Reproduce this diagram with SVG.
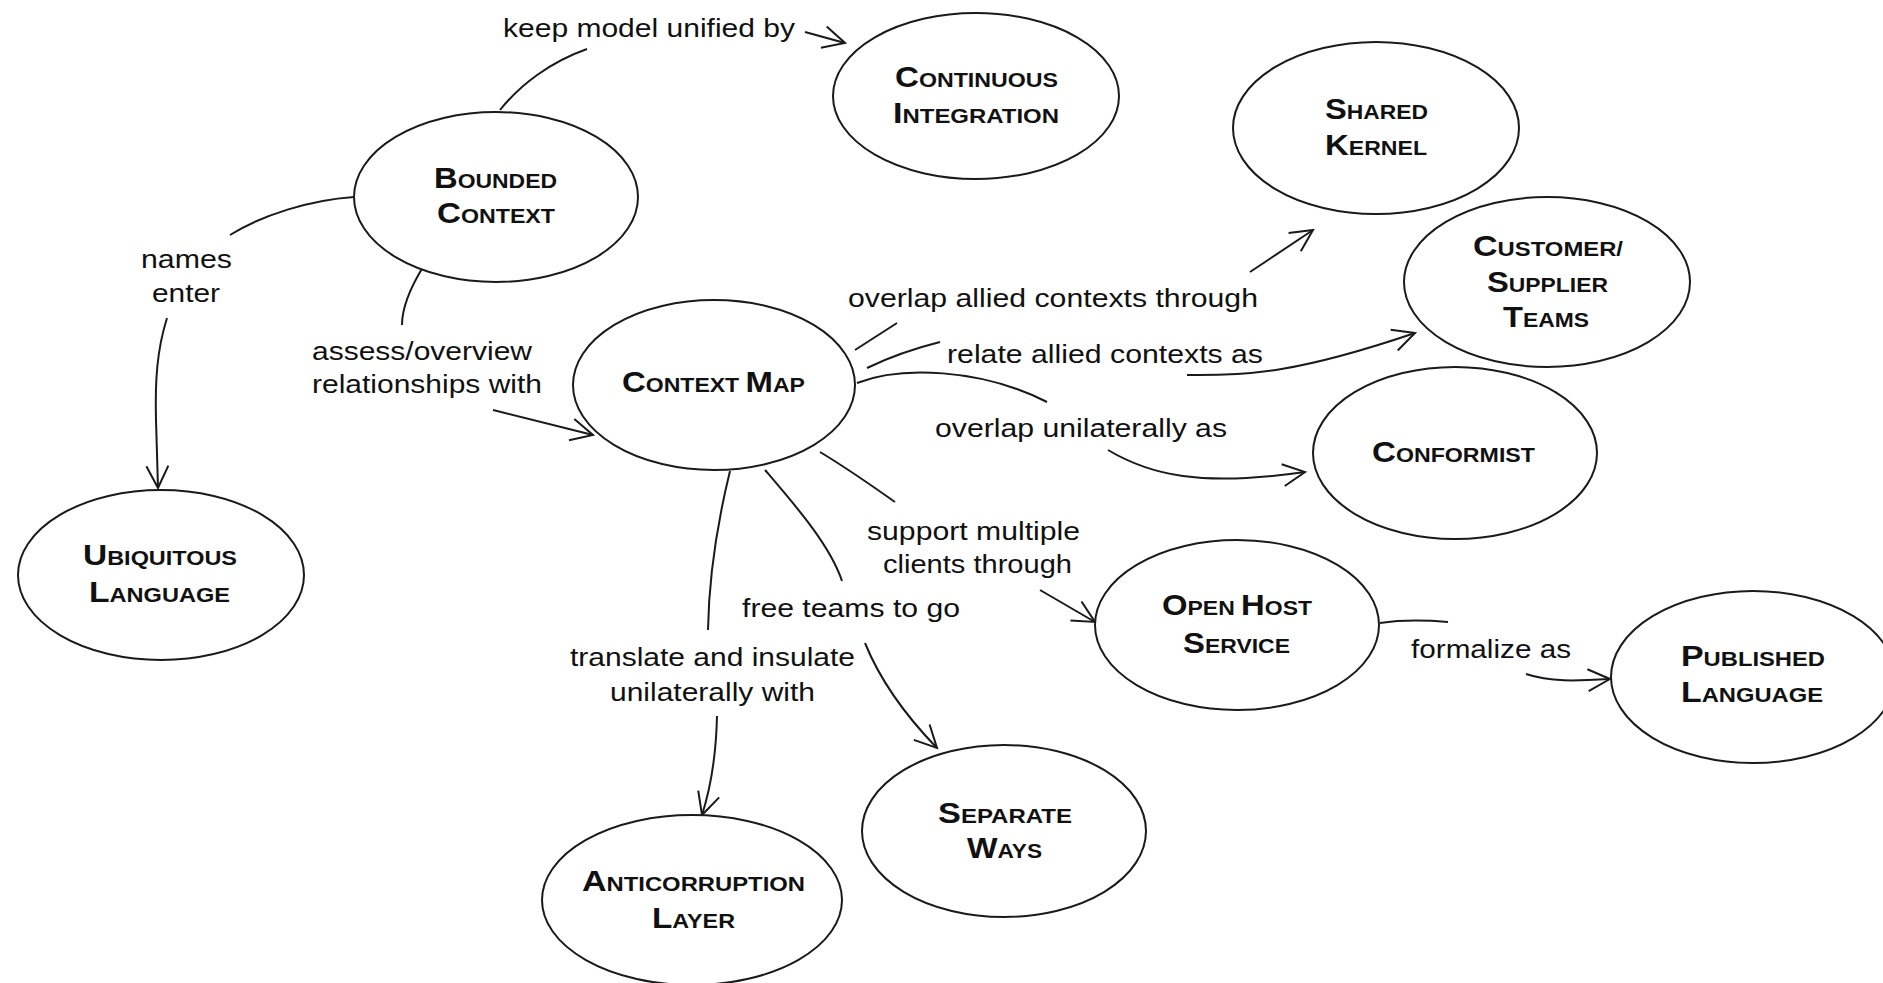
<svg xmlns="http://www.w3.org/2000/svg" width="1883" height="983" viewBox="0 0 1883 983">
  <style>
    .node ellipse { fill: #fff; stroke: #1a1a1a; stroke-width: 2; }
    .node text { font-family: "Liberation Sans", Arial, sans-serif; font-weight: bold; font-size: 21px; fill: #111; }
    .node .ini { font-size: 30px; }
    .edges path { fill: none; stroke: #1a1a1a; stroke-width: 2; }
    .edges text { font-family: "Liberation Sans", Arial, sans-serif; font-size: 26px; fill: #111; }
  </style>
  <defs>
    <marker id="arrow" markerUnits="userSpaceOnUse" markerWidth="28" markerHeight="28" viewBox="0 0 28 28" refX="25" refY="14" orient="auto">
      <path d="M3,3 L25,14 L3,25" fill="none" stroke="#1a1a1a" stroke-width="2"/>
    </marker>
  </defs>
  <rect width="1883" height="983" fill="#fff"/>

  <!-- connectors: each one is split around its label -->
  <g id="connectors" class="edges">
    <!-- Bounded Context -> Continuous Integration -->
    <path d="M500,110 C520,85 550,62 587,49"/>
    <text x="503" y="37" textLength="292" lengthAdjust="spacingAndGlyphs">keep model unified by</text>
    <path d="M805,32 L845,43" marker-end="url(#arrow)"/>

    <!-- Bounded Context -> Ubiquitous Language -->
    <path d="M354,197 C310,200 262,215 230,235"/>
    <text x="141" y="268" textLength="91" lengthAdjust="spacingAndGlyphs">names</text>
    <text x="152" y="302" textLength="68" lengthAdjust="spacingAndGlyphs">enter</text>
    <path d="M167,318 C157,350 155,380 156,420 L158,488" marker-end="url(#arrow)"/>

    <!-- Bounded Context -> Context Map -->
    <path d="M423,267 C412,285 402,305 402,325"/>
    <text x="312" y="360" textLength="220" lengthAdjust="spacingAndGlyphs">assess/overview</text>
    <text x="312" y="393" textLength="230" lengthAdjust="spacingAndGlyphs">relationships with</text>
    <path d="M493,410 L593,435" marker-end="url(#arrow)"/>

    <!-- Context Map -> Shared Kernel -->
    <path d="M855,350 L897,323"/>
    <text x="848" y="307" textLength="410" lengthAdjust="spacingAndGlyphs">overlap allied contexts through</text>
    <path d="M1250,272 L1313,230" marker-end="url(#arrow)"/>

    <!-- Context Map -> Customer/Supplier Teams -->
    <path d="M867,368 Q900,352 940,342"/>
    <text x="947" y="363" textLength="316" lengthAdjust="spacingAndGlyphs">relate allied contexts as</text>
    <path d="M1187,375 C1250,376 1300,372 1415,333" marker-end="url(#arrow)"/>

    <!-- Context Map -> Conformist -->
    <path d="M857,383 C900,366 980,368 1047,402"/>
    <text x="935" y="437" textLength="292" lengthAdjust="spacingAndGlyphs">overlap unilaterally as</text>
    <path d="M1108,450 C1150,475 1200,487 1305,472" marker-end="url(#arrow)"/>

    <!-- Context Map -> Open Host Service -->
    <path d="M820,452 C850,470 875,488 895,502"/>
    <text x="867" y="540" textLength="213" lengthAdjust="spacingAndGlyphs">support multiple</text>
    <text x="883" y="573" textLength="189" lengthAdjust="spacingAndGlyphs">clients through</text>
    <path d="M1040,590 L1095,622" marker-end="url(#arrow)"/>

    <!-- Open Host Service -> Published Language -->
    <path d="M1380,623 C1400,620 1425,620 1448,622"/>
    <text x="1411" y="658" textLength="160" lengthAdjust="spacingAndGlyphs">formalize as</text>
    <path d="M1526,674 C1550,682 1575,681 1610,679" marker-end="url(#arrow)"/>

    <!-- Context Map -> Anticorruption Layer -->
    <path d="M730,471 C718,520 709,570 708,630"/>
    <text x="570" y="666" textLength="285" lengthAdjust="spacingAndGlyphs">translate and insulate</text>
    <text x="610" y="701" textLength="205" lengthAdjust="spacingAndGlyphs">unilaterally with</text>
    <path d="M717,716 C716,760 710,790 702,815" marker-end="url(#arrow)"/>

    <!-- Context Map -> Separate Ways -->
    <path d="M765,470 C795,505 830,545 842,581"/>
    <text x="742" y="617" textLength="218" lengthAdjust="spacingAndGlyphs">free teams to go</text>
    <path d="M865,643 C880,680 905,715 937,748" marker-end="url(#arrow)"/>
  </g>

  <!-- nodes -->
  <g id="bounded-context" class="node">
    <ellipse cx="496" cy="197" rx="142" ry="85"/>
    <text x="434" y="188" textLength="123" lengthAdjust="spacingAndGlyphs"><tspan class="ini">B</tspan>OUNDED</text>
    <text x="437" y="223" textLength="118" lengthAdjust="spacingAndGlyphs"><tspan class="ini">C</tspan>ONTEXT</text>
  </g>

  <g id="continuous-integration" class="node">
    <ellipse cx="976" cy="96" rx="143" ry="83"/>
    <text x="895" y="87" textLength="163" lengthAdjust="spacingAndGlyphs"><tspan class="ini">C</tspan>ONTINUOUS</text>
    <text x="893" y="123" textLength="166" lengthAdjust="spacingAndGlyphs"><tspan class="ini">I</tspan>NTEGRATION</text>
  </g>

  <g id="shared-kernel" class="node">
    <ellipse cx="1376" cy="128" rx="143" ry="86"/>
    <text x="1325" y="119" textLength="103" lengthAdjust="spacingAndGlyphs"><tspan class="ini">S</tspan>HARED</text>
    <text x="1325" y="155" textLength="102" lengthAdjust="spacingAndGlyphs"><tspan class="ini">K</tspan>ERNEL</text>
  </g>

  <g id="customer-supplier-teams" class="node">
    <ellipse cx="1547" cy="282" rx="143" ry="85"/>
    <text x="1473" y="256" textLength="150" lengthAdjust="spacingAndGlyphs"><tspan class="ini">C</tspan>USTOMER/</text>
    <text x="1487" y="292" textLength="121" lengthAdjust="spacingAndGlyphs"><tspan class="ini">S</tspan>UPPLIER</text>
    <text x="1503" y="327" textLength="86" lengthAdjust="spacingAndGlyphs"><tspan class="ini">T</tspan>EAMS</text>
  </g>

  <g id="context-map" class="node">
    <ellipse cx="714" cy="385" rx="141" ry="85"/>
    <text x="622" y="392" textLength="183" lengthAdjust="spacingAndGlyphs"><tspan class="ini">C</tspan>ONTEXT <tspan class="ini">M</tspan>AP</text>
  </g>

  <g id="conformist" class="node">
    <ellipse cx="1455" cy="453" rx="142" ry="86"/>
    <text x="1372" y="462" textLength="163" lengthAdjust="spacingAndGlyphs"><tspan class="ini">C</tspan>ONFORMIST</text>
  </g>

  <g id="ubiquitous-language" class="node">
    <ellipse cx="161" cy="575" rx="143" ry="85"/>
    <text x="83" y="565" textLength="154" lengthAdjust="spacingAndGlyphs"><tspan class="ini">U</tspan>BIQUITOUS</text>
    <text x="89" y="602" textLength="141" lengthAdjust="spacingAndGlyphs"><tspan class="ini">L</tspan>ANGUAGE</text>
  </g>

  <g id="open-host-service" class="node">
    <ellipse cx="1237" cy="625" rx="142" ry="85"/>
    <text x="1162" y="615" textLength="150" lengthAdjust="spacingAndGlyphs"><tspan class="ini">O</tspan>PEN <tspan class="ini">H</tspan>OST</text>
    <text x="1183" y="653" textLength="107" lengthAdjust="spacingAndGlyphs"><tspan class="ini">S</tspan>ERVICE</text>
  </g>

  <g id="published-language" class="node">
    <ellipse cx="1753" cy="677" rx="142" ry="86"/>
    <text x="1681" y="666" textLength="144" lengthAdjust="spacingAndGlyphs"><tspan class="ini">P</tspan>UBLISHED</text>
    <text x="1681" y="702" textLength="142" lengthAdjust="spacingAndGlyphs"><tspan class="ini">L</tspan>ANGUAGE</text>
  </g>

  <g id="anticorruption-layer" class="node">
    <ellipse cx="692" cy="900" rx="150" ry="85"/>
    <text x="582" y="891" textLength="223" lengthAdjust="spacingAndGlyphs"><tspan class="ini">A</tspan>NTICORRUPTION</text>
    <text x="652" y="928" textLength="83" lengthAdjust="spacingAndGlyphs"><tspan class="ini">L</tspan>AYER</text>
  </g>

  <g id="separate-ways" class="node">
    <ellipse cx="1004" cy="831" rx="142" ry="86"/>
    <text x="938" y="823" textLength="134" lengthAdjust="spacingAndGlyphs"><tspan class="ini">S</tspan>EPARATE</text>
    <text x="967" y="858" textLength="75" lengthAdjust="spacingAndGlyphs"><tspan class="ini">W</tspan>AYS</text>
  </g>
</svg>
